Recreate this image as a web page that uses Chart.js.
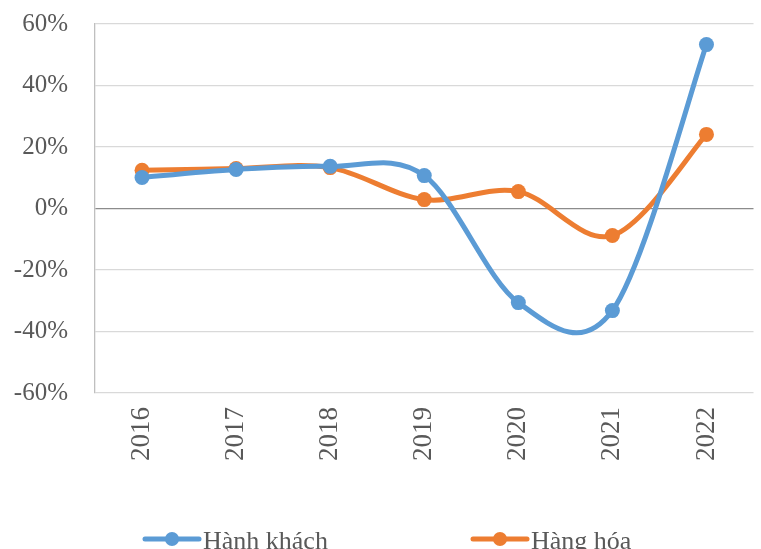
<!DOCTYPE html>
<html>
<head>
<meta charset="utf-8">
<script src="https://cdn.jsdelivr.net/npm/chart.js@4"></script>
<style>
  html, body { margin: 0; padding: 0; background: #fff; }
  #wrap { width: 761px; height: 549px; }
</style>
</head>
<body>
<div id="wrap"><canvas id="myChart" width="761" height="549"></canvas></div>
<script>
const years = ["2016", "2017", "2018", "2019", "2020", "2021", "2022"];
const hanhKhach = [10.1, 12.7, 13.7, 10.7, -30.6, -33.2, 53.3];
const hangHoa = [12.4, 13.0, 13.3, 2.9, 5.5, -8.8, 24.1];
const yTicks = [-60, -40, -20, 0, 20, 40, 60];

const FONT = "'Liberation Serif', 'Times New Roman', serif";
const TEXT = "#595959";

// Excel-style smoothing: uniform Catmull-Rom control points (1/6 of neighbour span)
const excelSmooth = {
  id: "excelSmooth",
  beforeDatasetsDraw(chart) {
    chart.getSortedVisibleDatasetMetas().forEach((meta) => {
      const line = meta.dataset;
      line.updateControlPoints(chart.chartArea, "x");
      const pts = meta.data;
      pts.forEach((p, i) => {
        const prev = pts[i - 1] || p;
        const next = pts[i + 1] || p;
        const dx = (next.x - prev.x) / 6;
        const dy = (next.y - prev.y) / 6;
        p.cp1x = p.x - dx;
        p.cp1y = p.y - dy;
        p.cp2x = p.x + dx;
        p.cp2y = p.y + dy;
      });
    });
  },
};

// legend drawn by hand: line + marker + label, like the office style
const legendPlugin = {
  id: "lineLegend",
  afterDraw(chart) {
    const c = chart.ctx;
    const items = [
      { x: 145, label: "Hành khách", color: "#5b9bd5" },
      { x: 473, label: "Hàng hóa", color: "#ed7d31" },
    ];
    const y = 539;
    c.save();
    items.forEach((it) => {
      c.strokeStyle = it.color;
      c.lineWidth = 5;
      c.lineCap = "round";
      c.beginPath();
      c.moveTo(it.x, y);
      c.lineTo(it.x + 54, y);
      c.stroke();
      c.fillStyle = it.color;
      c.beginPath();
      c.arc(it.x + 27, y, 7, 0, Math.PI * 2);
      c.fill();
      c.fillStyle = TEXT;
      c.font = "26px " + FONT;
      c.textBaseline = "alphabetic";
      c.fillText(it.label, it.x + 58, y + 10);
    });
    c.restore();
  },
};

const ctx = document.getElementById("myChart").getContext("2d");
const myChart = new Chart(ctx, {
  type: "line",
  data: {
    labels: years,
    datasets: [
      {
        label: "Hành khách",
        data: hanhKhach,
        borderColor: "#5b9bd5",
        backgroundColor: "#5b9bd5",
        borderWidth: 5,
        pointRadius: 7.5,
        pointBorderWidth: 0,
        tension: 0.4,
        capBezierPoints: false,
      },
      {
        label: "Hàng hóa",
        data: hangHoa,
        borderColor: "#ed7d31",
        backgroundColor: "#ed7d31",
        borderWidth: 5,
        pointRadius: 7.5,
        pointBorderWidth: 0,
        tension: 0.4,
        capBezierPoints: false,
      },
    ],
  },
  options: {
    responsive: false,
    animation: false,
    layout: {
      padding: { top: 24, right: 4, left: 0, bottom: 0 },
    },
    plugins: {
      legend: { display: false },
      tooltip: { enabled: false },
    },
    scales: {
      x: {
        offset: true,
        grid: { display: false, drawTicks: false },
        border: { display: false },
        ticks: {
          color: TEXT,
          font: { family: FONT, size: 27 },
          minRotation: 90,
          maxRotation: 90,
          padding: 14,
        },
        afterFit(scale) {
          scale.height = 156;
          scale.paddingLeft = 0;
          scale.paddingRight = 0;
          scale.paddingTop = 0;
          scale.paddingBottom = 0;
        },
      },
      y: {
        min: -60,
        max: 60,
        afterBuildTicks(scale) {
          scale.ticks = yTicks.map((v) => ({ value: v }));
        },
        grid: {
          drawTicks: false,
          lineWidth: 1.3,
          color: (c) => (c.tick && c.tick.value === 0 ? "#8c8c8c" : "#d9d9d9"),
        },
        border: { display: true, color: "#bfbfbf", width: 1.3 },
        ticks: {
          color: TEXT,
          font: { family: FONT, size: 25 },
          padding: 27,
          callback: (v) => v + "%",
        },
        afterFit(scale) {
          scale.width = 95;
          scale.paddingTop = 0;
          scale.paddingBottom = 0;
        },
      },
    },
  },
  plugins: [excelSmooth, legendPlugin],
});
</script>
</body>
</html>
